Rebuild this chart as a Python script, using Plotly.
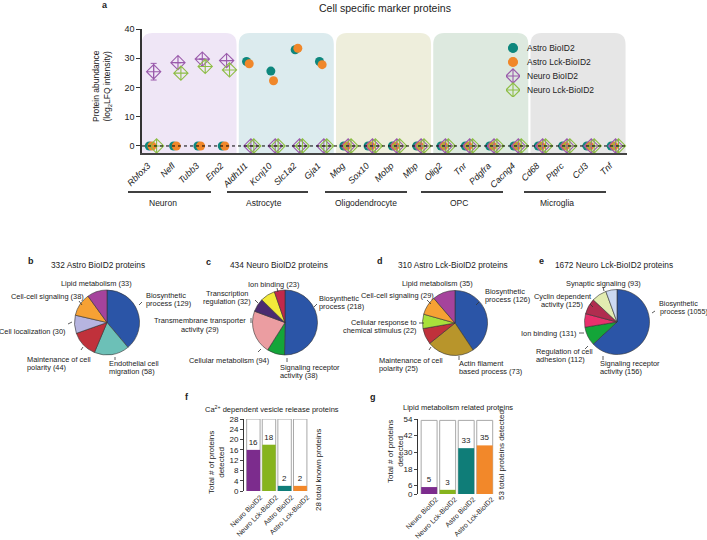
import plotly.graph_objects as go

W, H = 707, 540
def px(x): return x / W
def py(y): return 1 - y / H

FONT = "Liberation Sans, Arial, sans-serif"
TXT = "#222222"

# ---------------- panel a data ----------------
markers = ["Rbfox3", "Nefl", "Tubb3", "Eno2",
           "Aldh1l1", "Kcnj10", "Slc1a2", "Gja1",
           "Mog", "Sox10", "Mobp", "Mbp",
           "Olig2", "Tnr", "Pdgfra", "Cacng4",
           "Cd68", "Ptprc", "Ccl3", "Tnf"]
groups = ["Neuron", "Astrocyte", "Oligodendrocyte", "OPC", "Microglia"]
astro_bioid2 = [0, 0, 0, 0, 28.9, 25.6, 32.9, 28.9, 0, 0, 0, 0, 0, 0, 0, 0, 0, 0, 0, 0]
astro_lck_bioid2 = [0, 0, 0, 0, 28.1, 22.3, 33.4, 27.8, 0, 0, 0, 0, 0, 0, 0, 0, 0, 0, 0, 0]
neuro_bioid2 = [25.4, 28.5, 29.7, 29.2, 0, 0, 0, 0, 0, 0, 0, 0, 0, 0, 0, 0, 0, 0, 0, 0]
neuro_bioid2_err = [2.85, 0, 0, 0, 0, 0, 0, 0, 0, 0, 0, 0, 0, 0, 0, 0, 0, 0, 0, 0]
neuro_lck_bioid2 = [0, 24.9, 27.2, 26.0, 0, 0, 0, 0, 0, 0, 0, 0, 0, 0, 0, 0, 0, 0, 0, 0]
a_yticks = [0, 10, 20, 30, 40]

# ---------------- pie data ----------------
pie_b_labels = ["Biosynthetic process", "Endothelial cell migration", "Maintenance of cell polarity",
                "Cell localization", "Cell-cell signaling", "Lipid metabolism"]
pie_b_values = [129, 58, 44, 30, 38, 33]
pie_c_labels = ["Biosynthetic process", "Signaling receptor activity", "Cellular metabolism",
                "Transmembrane transporter activity", "Transcription regulation", "Ion binding"]
pie_c_values = [218, 38, 94, 29, 32, 23]
pie_d_labels = ["Biosynthetic process", "Actin filament based process", "Maintenance of cell polarity",
                "Cellular response to chemical stimulus", "Cell-cell signaling", "Lipid metabolism"]
pie_d_values = [126, 73, 25, 22, 29, 35]
pie_e_labels = ["Biosynthetic process", "Signaling receptor activity", "Regulation of cell adhesion",
                "Ion binding", "Cyclin dependent activity", "Synaptic signaling"]
pie_e_values = [1055, 156, 112, 131, 125, 93]

# ---------------- bar data ----------------
bar_cats = ["Neuro BioID2", "Neuro Lck-BioID2", "Astro BioID2", "Astro Lck-BioID2"]
ca_detected = [16, 18, 2, 2]
ca_total = [28, 28, 28, 28]
ca_yticks = [0, 4, 8, 12, 16, 20, 24, 28]
lipid_detected = [5, 3, 33, 35]
lipid_total = [53, 53, 53, 53]
lipid_yticks = [0, 6, 18, 30, 42, 54]

# ---------------- styles ----------------
C_TEAL = "#0e877d"
C_ORANGE = "#f0872a"
C_PURPLE = "#9a5aab"
C_GREEN = "#8dbd45"
BG = ["#efe6f6", "#dcebee", "#eeeedc", "#dde9df", "#e6e6e6"]
BLUE = "#2b55a7"

fig = go.Figure()

n = len(markers)
xi = list(range(n))
offs = {"ab": -0.15, "al": -0.04, "nb": 0.03, "nl": 0.15}

fig.add_trace(go.Scatter(x=[i + offs["ab"] for i in xi], y=astro_bioid2, mode="markers",
                         marker=dict(symbol="circle", size=9, color=C_TEAL),
                         showlegend=False, xaxis="x", yaxis="y"))
fig.add_trace(go.Scatter(x=[i + offs["al"] for i in xi], y=astro_lck_bioid2, mode="markers",
                         marker=dict(symbol="circle", size=9, color=C_ORANGE),
                         showlegend=False, xaxis="x", yaxis="y"))
fig.add_trace(go.Scatter(x=[i + offs["nb"] for i in xi], y=neuro_bioid2, mode="markers",
                         marker=dict(symbol="diamond-cross-open", size=11, color=C_PURPLE,
                                     line=dict(width=1.1, color=C_PURPLE)),
                         error_y=dict(type="data", array=neuro_bioid2_err, color=C_PURPLE,
                                      thickness=1, width=3),
                         showlegend=False, xaxis="x", yaxis="y"))
fig.add_trace(go.Scatter(x=[i + offs["nl"] for i in xi], y=neuro_lck_bioid2, mode="markers",
                         marker=dict(symbol="diamond-cross-open", size=11, color=C_GREEN,
                                     line=dict(width=1.1, color=C_GREEN)),
                         showlegend=False, xaxis="x", yaxis="y"))

# manual legend on a hidden axis
leg_names = ["Astro BioID2", "Astro Lck-BioID2", "Neuro BioID2", "Neuro Lck-BioID2"]
leg_sym = ["circle", "circle", "diamond-cross-open", "diamond-cross-open"]
leg_col = [C_TEAL, C_ORANGE, C_PURPLE, C_GREEN]
leg_size = [9, 9, 11, 11]
for k in range(4):
    fig.add_trace(go.Scatter(x=[0.5], y=[k], mode="markers",
                             marker=dict(symbol=leg_sym[k], size=leg_size[k], color=leg_col[k],
                                         line=dict(width=1.1, color=leg_col[k])),
                             showlegend=False, xaxis="x4", yaxis="y4", hoverinfo="skip"))

# ---------------- pies ----------------
def pie(labels, values, colors, cx, cy, r):
    return go.Pie(labels=labels, values=values, sort=False, direction="clockwise", rotation=0,
                  textinfo="none", showlegend=False, automargin=False,
                  marker=dict(colors=colors, line=dict(color="#333333", width=0.6)),
                  domain=dict(x=[px(cx - r), px(cx + r)], y=[py(cy + r), py(cy - r)]))

fig.add_trace(pie(pie_b_labels, pie_b_values,
                  [BLUE, "#6cc0b7", "#c0313b", "#b6b4e0", "#f6a134", "#a5439c"], 107, 322.5, 32.5))
fig.add_trace(pie(pie_c_labels, pie_c_values,
                  [BLUE, "#14a539", "#eb9da1", "#4b2b70", "#f3ea3b", "#c0294b"], 285, 322.5, 32.5))
fig.add_trace(pie(pie_d_labels, pie_d_values,
                  [BLUE, "#b8952b", "#c0313b", "#a8e03b", "#f6a134", "#a5439c"], 455, 323, 32.5))
fig.add_trace(pie(pie_e_labels, pie_e_values,
                  [BLUE, "#14a539", "#e8316d", "#b02d4f", "#e2ecb1", "#cbd9f2"], 617, 322, 32.5))

# ---------------- bars ----------------
bar_cols = ["#7c2c8d", "#86b41e", "#0f7d78", "#f2882a"]
fig.add_trace(go.Bar(x=bar_cats, y=ca_total, width=0.86, marker=dict(color="white", line=dict(color="#a8a8a8", width=1)),
                     showlegend=False, xaxis="x2", yaxis="y2", hoverinfo="skip"))
fig.add_trace(go.Bar(x=bar_cats, y=ca_detected, width=0.86, marker=dict(color=bar_cols, line=dict(width=0)),
                     text=[str(v) for v in ca_detected], textposition="outside",
                     textfont=dict(size=8, color=TXT, family=FONT), cliponaxis=False,
                     showlegend=False, xaxis="x2", yaxis="y2"))
fig.add_trace(go.Bar(x=bar_cats, y=lipid_total, width=0.86, marker=dict(color="white", line=dict(color="#a8a8a8", width=1)),
                     showlegend=False, xaxis="x3", yaxis="y3", hoverinfo="skip"))
fig.add_trace(go.Bar(x=bar_cats, y=lipid_detected, width=0.86, marker=dict(color=bar_cols, line=dict(width=0)),
                     text=[str(v) for v in lipid_detected], textposition="outside",
                     textfont=dict(size=8, color=TXT, family=FONT), cliponaxis=False,
                     showlegend=False, xaxis="x3", yaxis="y3"))

# ---------------- shapes ----------------
shapes = []
rx, ry = 0.45, 4.0
for g in range(len(groups)):
    x0 = 4 * g - 0.47
    x1 = 4 * g + 3.44
    y0, y1 = -2.4, 38.6
    path = (f"M {x0},{y0} L {x0},{y1 - ry} Q {x0},{y1} {x0 + rx},{y1} "
            f"L {x1 - rx},{y1} Q {x1},{y1} {x1},{y1 - ry} L {x1},{y0} Z")
    shapes.append(dict(type="path", path=path, xref="x", yref="y", fillcolor=BG[g],
                       line=dict(width=0), layer="below"))
shapes.append(dict(type="line", xref="x", yref="y", x0=-0.45, x1=19.5, y0=0, y1=0,
                   line=dict(color="black", width=1, dash="dot"), layer="above"))

# group underline bars (pixel positions)
grp_lines = [(128, 211), (227, 308), (325, 407), (421, 503), (524, 606)]
grp_label_x = [163, 264, 366, 459, 557]
for (a, b) in grp_lines:
    shapes.append(dict(type="line", xref="paper", yref="paper", x0=px(a), x1=px(b), y0=py(192), y1=py(192),
                       line=dict(color="black", width=1.3)))

# pie leader ticks (pixel positions)
ticks = [
    (79, 301, 82, 305), (139, 305, 142, 302), (68, 324, 72, 322), (81, 350, 83, 347), (115, 357, 115, 360),
    (277, 288, 278, 292), (255, 300, 258, 303), (251, 318, 251, 323), (258, 352, 261, 349), (287, 358, 287, 362),
    (314, 307, 317, 304),
    (427, 300, 431, 304), (476, 305, 479, 302), (419, 323, 424, 323), (429, 350, 431, 347), (459, 356, 459, 360),
    (603, 287, 604, 291), (590, 304, 593, 307), (579, 333, 584, 333), (585, 349, 588, 346), (603, 356, 603, 360),
    (652, 313, 655, 311),
]
for (a, b, c, d) in ticks:
    shapes.append(dict(type="line", xref="paper", yref="paper", x0=px(a), y0=py(b), x1=px(c), y1=py(d),
                       line=dict(color="#333333", width=0.8)))

# ---------------- annotations ----------------
anns = []
def ann(text, x, y, size=8, xanchor="center", yanchor="middle", angle=0, bold=False, color=TXT):
    t = f"<b>{text}</b>" if bold else text
    anns.append(dict(text=t, x=px(x), y=py(y), xref="paper", yref="paper", showarrow=False,
                     xanchor=xanchor, yanchor=yanchor, textangle=angle,
                     font=dict(size=size, family=FONT, color=color)))

def lines(texts, x, y, xanchor, size=7.4, step=8.3):
    for k, t in enumerate(texts):
        ann(t, x, y + k * step, size=size, xanchor=xanchor)

# panel a
ann("a", 105, 5, size=9, bold=True)
ann("Cell specific marker proteins", 385, 8, size=10.5)
ann("Protein abundance<br>(log<sub>2</sub>LFQ intensity)", 102, 86, size=8.5, angle=-90)
for k in range(len(groups)):
    ann(groups[k], grp_label_x[k], 203, size=8.5)
leg_y = [48, 62, 76, 90]
for k in range(4):
    ann(leg_names[k], 525, leg_y[k], size=8.5, xanchor="left")

# pies headers
ann("b", 31, 261, size=9, bold=True)
ann("332 Astro BioID2 proteins", 49, 265, size=8.3, xanchor="left")
ann("c", 208, 262, size=9, bold=True)
ann("434 Neuro BioID2 proteins", 228, 265, size=8.3, xanchor="left")
ann("d", 380, 261, size=9, bold=True)
ann("310 Astro Lck-BioID2 proteins", 396, 265, size=8.3, xanchor="left")
ann("e", 541, 261, size=9, bold=True)
ann("1672 Neuro Lck-BioID2 proteins", 553, 265, size=8.3, xanchor="left")

# pie b labels
lines(["Lipid metabolism (33)"], 96, 283, "center")
lines(["Cell-cell signaling (38)"], 86, 296, "right")
lines(["Biosynthetic", "process (129)"], 144, 295, "left")
lines(["Cell localization (30)"], 68, 331, "right")
lines(["Maintenance of cell", "polarity (44)"], 25, 359, "left")
lines(["Endothelial cell", "migration (58)"], 107, 363, "left")
# pie c labels
lines(["Ion binding (23)"], 273, 284, "center")
lines(["Transcription", "regulation (32)"], 227, 293, "center")
lines(["Transmembrane transporter", "activity (29)"], 200, 320, "center", step=9.5)
lines(["Cellular metabolism (94)"], 229, 360, "center")
lines(["Signaling receptor", "activity (38)"], 278, 367, "left")
lines(["Biosynthetic", "process (218)"], 317, 298, "left")
# pie d labels
lines(["Lipid metabolism (35)"], 437, 283, "center")
lines(["Cell-cell signaling (29)"], 436, 295, "right")
lines(["Biosynthetic", "process (126)"], 483, 291, "left")
lines(["Cellular response to", "chemical stimulus (22)"], 419, 322, "right")
lines(["Maintenance of cell", "polarity (25)"], 377, 360, "left")
lines(["Actin filament", "based process (73)"], 457, 363, "left")
# pie e labels
lines(["Synaptic signaling (93)"], 603, 283, "center")
lines(["Cyclin dependent", "activity (125)"], 562, 296, "center")
lines(["Ion binding (131)"], 578, 333, "right")
lines(["Regulation of cell", "adhesion (112)"], 534, 351, "left")
lines(["Signaling receptor", "activity (156)"], 598, 363, "left")
ann("Biosynthetic", 657, 303, size=7.2, xanchor="left")
ann("process (1055)", 658, 312, size=7.2, xanchor="left")

# bar panels
ann("f", 187, 397, size=9, bold=True)
ann("Ca<sup>2+</sup> dependent vesicle release proteins", 272, 409, size=7.5)
ann("Total # of proteins<br>detected", 216, 463, size=8, angle=-90)
ann("28 total known proteins", 318, 470, size=8, angle=-90)
ann("g", 373, 397, size=9, bold=True)
ann("Lipid metabolism related proteins", 458, 407, size=7.5)
ann("Total # of proteins<br>detected", 395, 452, size=8, angle=-90)
ann("53 total proteins detected", 501, 455, size=8, angle=-90)

axis_font = dict(size=9, family=FONT, color=TXT)
small_font = dict(size=8, family=FONT, color=TXT)
bar_xfont = dict(size=7.0, family=FONT, color=TXT)

fig.update_layout(
    width=W, height=H, margin=dict(l=0, r=0, t=0, b=0, autoexpand=False),
    paper_bgcolor="white", plot_bgcolor="rgba(0,0,0,0)",
    font=dict(family=FONT, color=TXT),
    barmode="overlay",
    shapes=shapes, annotations=anns,
    xaxis=dict(domain=[px(142), px(627)], range=[-0.45, 19.5], anchor="y", automargin=False,
               tickvals=xi, ticktext=[f"<i>{m}</i>" for m in markers], tickangle=-45,
               ticklabelshift=-5, ticklabelstandoff=2,
               tickfont=axis_font, showline=True, linewidth=2, linecolor="#444444",
               showgrid=False, zeroline=False, ticks=""),
    yaxis=dict(domain=[py(153), py(29)], range=[-2.4, 40], anchor="x", automargin=False,
               tickvals=a_yticks, ticks="outside", ticklen=4, tickwidth=1, tickcolor="#333333",
               tickfont=axis_font, showline=True, linewidth=1.5, linecolor="#333333",
               showgrid=False, zeroline=False),
    xaxis2=dict(domain=[px(244), px(308)], range=[-0.6, 3.5], anchor="y2", type="category", automargin=False,
                tickangle=-45, ticklabelshift=7, ticklabelstandoff=0,
                tickfont=bar_xfont, showline=False, showgrid=False, zeroline=False, ticks=""),
    yaxis2=dict(domain=[py(491), py(419)], range=[0, 28], anchor="x2", tickvals=ca_yticks, automargin=False,
                ticks="outside", ticklen=3, tickfont=small_font, showline=True, linewidth=1,
                linecolor="#333333", showgrid=False, zeroline=False),
    xaxis3=dict(domain=[px(418), px(494)], range=[-0.6, 3.5], anchor="y3", type="category", automargin=False,
                tickangle=-45, ticklabelshift=7, ticklabelstandoff=-1,
                tickfont=bar_xfont, showline=False, showgrid=False, zeroline=False, ticks=""),
    yaxis3=dict(domain=[py(494), py(419)], range=[0, 54], anchor="x3", tickvals=lipid_yticks, automargin=False,
                ticks="outside", ticklen=3, tickfont=small_font, showline=True, linewidth=1,
                linecolor="#333333", showgrid=False, zeroline=False),
    xaxis4=dict(domain=[px(506), px(520)], range=[0, 1], anchor="y4", visible=False, automargin=False),
    yaxis4=dict(domain=[py(97), py(41)], range=[3.5, -0.5], anchor="x4", visible=False, automargin=False),
)

fig.write_html("out.html", config={"displayModeBar": False},
               post_script="document.body.style.margin='0px'; document.body.style.overflow='hidden';")
